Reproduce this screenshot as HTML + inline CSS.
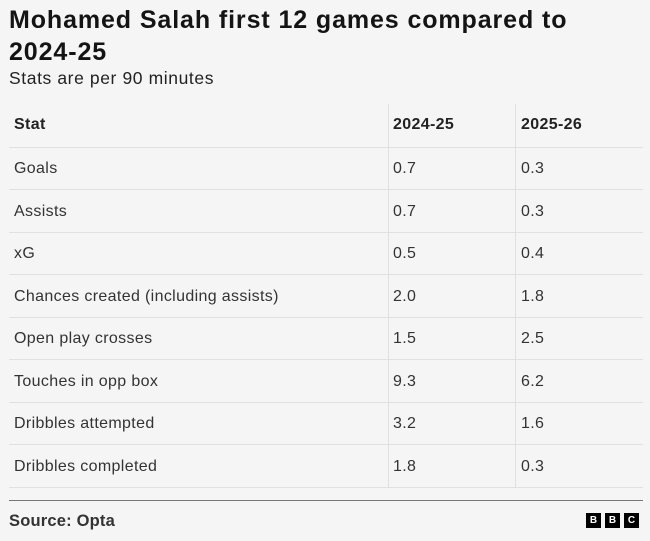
<!DOCTYPE html>
<html><head><style>
body{margin:0;width:650px;height:541px;background:#f5f5f5;font-family:"Liberation Sans",sans-serif;color:#222;position:relative;overflow:hidden}
.t{position:absolute;left:9px;top:4px;font-size:25px;font-weight:bold;line-height:32px;letter-spacing:0.9px;color:#141414}
.s{position:absolute;left:9px;top:68px;font-size:17.5px;letter-spacing:0.6px;color:#222}
.h{position:absolute;height:1px;background:#e0e0e0;left:9px;width:634px}
.v{position:absolute;width:1px;background:#e0e0e0;top:104px;height:383px}
.c{position:absolute;font-size:16px;color:#333;letter-spacing:0.35px}
.b{font-weight:bold;color:#222}
.bbc{position:absolute;top:513px;width:15px;height:15px;background:#000;color:#fff;font-size:10px;font-weight:bold;text-align:center;line-height:15px}
</style></head><body>
<div class="t">Mohamed Salah first 12 games compared to<br>2024-25</div>
<div class="s">Stats are per 90 minutes</div>
<div class="v" style="left:388px"></div>
<div class="v" style="left:515px"></div>
<div class="h" style="top:147px"></div>
<div class="h" style="top:189px"></div>
<div class="h" style="top:232px"></div>
<div class="h" style="top:274px"></div>
<div class="h" style="top:317px"></div>
<div class="h" style="top:359px"></div>
<div class="h" style="top:402px"></div>
<div class="h" style="top:444px"></div>
<div class="h" style="top:487px"></div>
<div class="h" style="top:500px;background:#777"></div>
<div class="c b" style="left:14px;top:116px">Stat</div>
<div class="c b" style="left:393px;top:116px">2024-25</div>
<div class="c b" style="left:521px;top:116px">2025-26</div>
<div class="c" style="left:14px;top:160px">Goals</div><div class="c" style="left:393px;top:160px">0.7</div><div class="c" style="left:521px;top:160px">0.3</div>
<div class="c" style="left:14px;top:203px">Assists</div><div class="c" style="left:393px;top:203px">0.7</div><div class="c" style="left:521px;top:203px">0.3</div>
<div class="c" style="left:14px;top:245px">xG</div><div class="c" style="left:393px;top:245px">0.5</div><div class="c" style="left:521px;top:245px">0.4</div>
<div class="c" style="left:14px;top:288px">Chances created (including assists)</div><div class="c" style="left:393px;top:288px">2.0</div><div class="c" style="left:521px;top:288px">1.8</div>
<div class="c" style="left:14px;top:330px">Open play crosses</div><div class="c" style="left:393px;top:330px">1.5</div><div class="c" style="left:521px;top:330px">2.5</div>
<div class="c" style="left:14px;top:373px">Touches in opp box</div><div class="c" style="left:393px;top:373px">9.3</div><div class="c" style="left:521px;top:373px">6.2</div>
<div class="c" style="left:14px;top:415px">Dribbles attempted</div><div class="c" style="left:393px;top:415px">3.2</div><div class="c" style="left:521px;top:415px">1.6</div>
<div class="c" style="left:14px;top:458px">Dribbles completed</div><div class="c" style="left:393px;top:458px">1.8</div><div class="c" style="left:521px;top:458px">0.3</div>
<div class="c b" style="left:9px;top:512px;font-size:16.5px;color:#333;letter-spacing:0.2px">Source: Opta</div>
<div class="bbc" style="left:586px">B</div>
<div class="bbc" style="left:605px">B</div>
<div class="bbc" style="left:624px">C</div>
</body></html>
